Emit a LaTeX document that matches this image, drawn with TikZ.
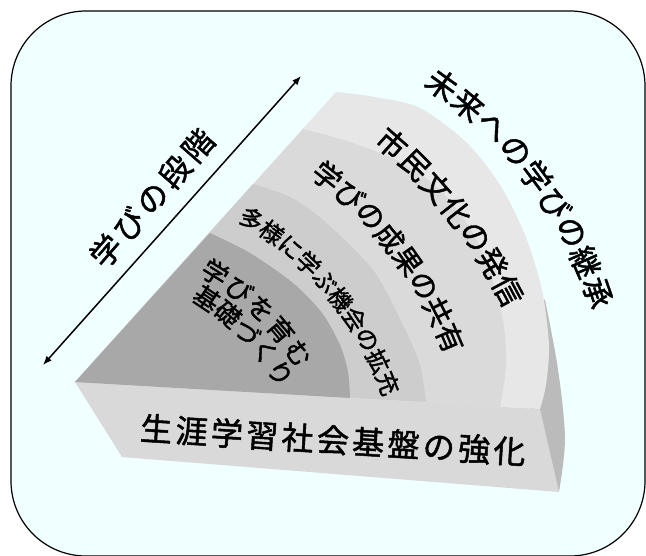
\documentclass[tikz,border=0pt]{standalone}
\usepackage{fontspec}
\setmainfont{Noto Sans CJK JP}[FakeBold=1.5]
\usetikzlibrary{arrows.meta}
\definecolor{bgc}{HTML}{F0FFFF}
\definecolor{bandA}{HTML}{A8A8A8}
\definecolor{bandB}{HTML}{CDCDCD}
\definecolor{bandC}{HTML}{DADADA}
\definecolor{bandD}{HTML}{E7E7E7}
\definecolor{slabc}{HTML}{D9D9D9}
\definecolor{sidec}{HTML}{BBBBBB}
\newcommand{\kslab}{\kern3.4pt}
\newcommand{\kstage}{\kern4pt}
\tikzset{
  chr/.style={inner sep=0pt, font=\fontsize{#1}{#1}\selectfont},
  stagearrow/.style={line width=1.5pt, >={Latex[length=9pt,width=7pt]}, <->}
}
% \arcword{name}{cx}{cy}{R}{theta0}{dtheta}{size}{list of characters}
\newcommand{\arcword}[8]{%
  \foreach \ch [count=\i from 0] in {#8} {
    \pgfmathsetmacro\tt{#5+#6*\i}
    \path (#2,#3) ++(\tt:#4) node[chr=#7, rotate=-\tt-90] (#1-\i) {\ch};
  }%
}
\begin{document}
\begin{tikzpicture}[x=1pt,y=-1pt]
\useasboundingbox (0,0) rectangle (646,555);
\begin{scope}
  \clip (0,0) rectangle (646,555);
  \draw[fill=bgc, draw=black, line width=1.2pt, rounded corners=75pt] (11,11) rectangle (645,556);
\end{scope}

% apex of the fan
\coordinate (A) at (75,382);

% outer side strip
\fill[sidec] (530,290) -- plot[smooth] coordinates {(545,300) (551,330) (557,363) (562,400) (565,437) (563,465) (559,492)} -- (540,480) -- (530,409) -- cycle;

% front slab
\fill[slabc] (A) -- (540,409) -- (559,492) -- (122,457) -- cycle;

% top face bands
\fill[bandD] (A) -- plot[smooth] coordinates {(336,92) (375,97) (420,108) (467,143) (500,185) (525,235) (542,290) (549,345) (546,385) (540,409)} -- cycle;
\fill[bandC] (A) -- plot[smooth] coordinates {(303,129) (350,142) (400,162) (440,190) (470,228) (490,273) (503,320) (506,365) (500,407)} -- cycle;
\fill[bandB] (A) -- plot[smooth] coordinates {(253,184) (290,197) (323,220) (373,270) (403,325) (420,365) (426,402)} -- cycle;
\fill[bandA] (A) -- plot[smooth] coordinates {(210,233) (250,253) (293,283) (322,313) (340,345) (348,372) (350,398)} -- cycle;

% curved labels
\arcword{ta}{192}{433}{429}{-54.3}{4.4}{31}{未,来,へ,の,学,び,の,継,承}
\arcword{tb}{38}{542}{533}{-48.4}{3.37}{30}{市,民,文,化,の,発,信}
\arcword{tc}{66.5}{501.5}{417}{-51.3}{4.03}{28.5}{学,び,の,成,果,の,共,有}
\arcword{td}{71}{507}{340}{-57.9}{4.06}{23.5}{多,様,に,学,ぶ,機,会,の,拡,充}
\arcword{te}{70}{505}{274}{-58}{6.1}{26}{学,び,を,育,む}
\arcword{tf}{70}{505}{248}{-56.5}{6.1}{25.5}{基,礎,づ,く,り}

% base label
\node[rotate=-3.6, chr=32] (base) at (333,440) {生\kslab 涯\kslab 学\kslab 習\kslab 社\kslab 会\kslab 基\kslab 盤\kslab の\kslab 強\kslab 化};

% stage arrow and label
\coordinate (arrA) at (43,365);
\coordinate (arrB) at (301,76);
\draw[stagearrow] (arrA) -- (arrB);
\node[rotate=49, chr=31] (stage) at (152,198) {学\kstage び\kstage の\kstage 段\kstage 階};
\end{tikzpicture}
\end{document}
